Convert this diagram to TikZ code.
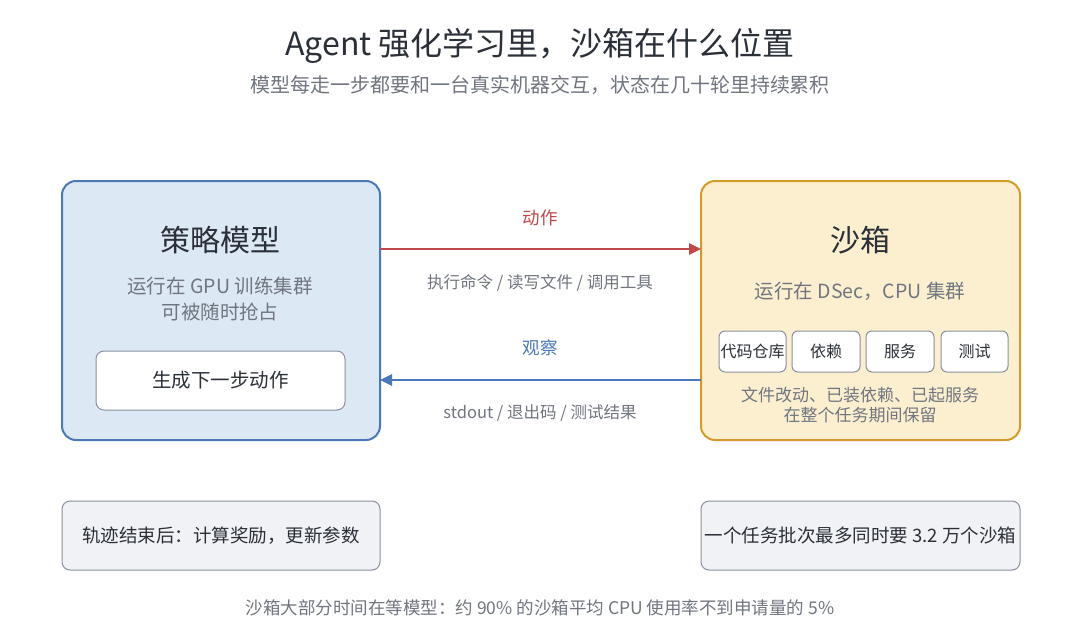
\documentclass[tikz,border=0pt]{standalone}
\usepackage{fontspec}
\setmainfont{Noto Sans CJK SC}
\usetikzlibrary{arrows.meta}
\definecolor{bluef}{HTML}{DDE8F5}\definecolor{blued}{HTML}{4A78B8}
\definecolor{orf}{HTML}{FCEFD0}\definecolor{ord}{HTML}{D49A2A}
\definecolor{grf}{HTML}{F1F2F5}\definecolor{grd}{HTML}{8A90A0}
\definecolor{txt}{HTML}{2A2F38}\definecolor{sub}{HTML}{70757F}
\definecolor{redc}{HTML}{C0474A}
\begin{document}
\begin{tikzpicture}[x=1pt,y=-1pt,
 fs/.style={font=\fontsize{#1}{#1}\selectfont},
 big/.style={draw=#1,line width=2pt,rounded corners=14pt},
 small/.style={draw=grd,fill=white,line width=1pt,rounded corners=6pt,text=txt,fs=16},
 note/.style={draw=grd,fill=grf,line width=1pt,rounded corners=8pt,text=txt,fs=18.5,minimum width=318pt,minimum height=69pt},
 lbl/.style={fs=16.5,text=sub}]
\useasboundingbox (0,0) rectangle (1080,640);
\fill[white] (0,0) rectangle (1080,640);
\node[fs=32,text=txt] (title) at (540,46) {Agent 强化学习里，沙箱在什么位置};
\node[fs=20,text=sub] (subt) at (540,85) {模型每走一步都要和一台真实机器交互，状态在几十轮里持续累积};
\node[big=blued,fill=bluef,minimum width=318pt,minimum height=259pt] (L) at (221,310.5) {};
\node[big=ord,fill=orf,minimum width=319pt,minimum height=259pt] (R) at (860.5,310.5) {};
\node[fs=30,text=txt] (lt) at (220,240) {策略模型};
\node[fs=19.5,text=sub,align=center] (ls) at (220,299) {运行在 GPU 训练集群\\[6pt]可被随时抢占};
\node[small,fs=19.5,minimum width=249pt,minimum height=59pt,rounded corners=8pt] (gen) at (220.5,380.5) {生成下一步动作};
\node[fs=30,text=txt] (rt) at (860,240) {沙箱};
\node[fs=19.5,text=sub] (rs) at (860,291) {运行在 DSec，CPU 集群};
\node[small,minimum width=67pt,minimum height=41pt,inner sep=0pt] (s1) at (752.5,351.5) {代码仓库};
\node[small,minimum width=68pt,minimum height=41pt] (s2) at (826,351.5) {依赖};
\node[small,minimum width=68pt,minimum height=41pt] (s3) at (900,351.5) {服务};
\node[small,minimum width=67pt,minimum height=41pt] (s4) at (974.5,351.5) {测试};
\node[fs=17,text=sub,align=center] (rn) at (860,405) {文件改动、已装依赖、已起服务\\[3pt]在整个任务期间保留};
\coordinate (a1) at (380,249); \coordinate (a2) at (701,249);
\coordinate (b1) at (701,380); \coordinate (b2) at (380,380);
\draw[redc,line width=2.5pt,-{Triangle[length=12pt,width=11pt]}] (a1) -- (a2);
\draw[blued,line width=2.5pt,-{Triangle[length=12pt,width=11pt]}] (b1) -- (b2);
\node[fs=17.5,text=redc] (act) at (540,218) {动作};
\node[lbl] (actd) at (540,283) {执行命令 / 读写文件 / 调用工具};
\node[fs=17.5,text=blued] (obs) at (540,348) {观察};
\node[lbl] (obsd) at (540,413) {stdout / 退出码 / 测试结果};
\node[note] (n1) at (221,535.5) {轨迹结束后：计算奖励，更新参数};
\node[note,minimum width=319pt] (n2) at (860.5,535.5) {一个任务批次最多同时要 3.2 万个沙箱};
\node[fs=17.5,text=sub] (foot) at (540,608) {沙箱大部分时间在等模型：约 90\% 的沙箱平均 CPU 使用率不到申请量的 5\%};
\end{tikzpicture}
\end{document}
